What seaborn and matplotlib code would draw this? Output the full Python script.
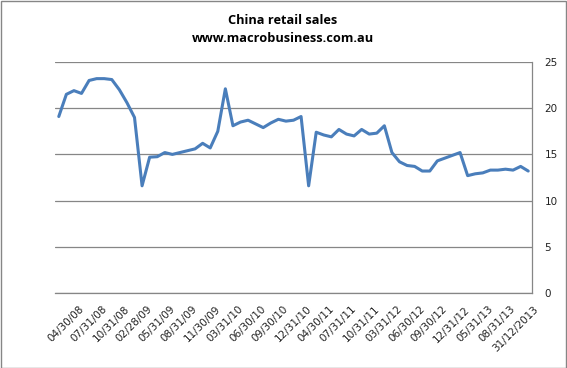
import numpy as np
import pandas as pd
import matplotlib
matplotlib.use("Agg")
import matplotlib.pyplot as plt
import matplotlib.transforms as mtransforms
from matplotlib.patches import Rectangle
import seaborn as sns

# retail sales growth, y/y %, one value per reported month
sales = [19.1, 21.5, 21.9, 21.6, 23.0, 23.2, 23.2, 23.1, 22.0, 20.6,
         19.0, 11.6, 14.7, 14.75, 15.2, 15.0, 15.2, 15.4, 15.6, 16.2,
         15.7, 17.5, 22.1, 18.1, 18.5, 18.7, 18.3, 17.9, 18.4, 18.8,
         18.6, 18.7, 19.1, 11.6, 17.4, 17.1, 16.9, 17.7, 17.2, 17.0,
         17.7, 17.2, 17.3, 18.1, 15.2, 14.2, 13.8, 13.7, 13.2, 13.2,
         14.3, 14.6, 14.9, 15.2, 12.7, 12.9, 13.0, 13.3, 13.3, 13.4,
         13.3, 13.7, 13.2]

# category labels shown on every third point
tick_labels = ['04/30/08', '07/31/08', '10/31/08', '02/28/09', '05/31/09',
               '08/31/09', '11/30/09', '03/31/10', '06/30/10', '09/30/10',
               '12/31/10', '04/30/11', '07/31/11', '10/31/11', '03/31/12',
               '06/30/12', '09/30/12', '12/31/12', '05/31/13', '08/31/13',
               '31/12/2013']
label_step = 3

y_ticks = [0, 5, 10, 15, 20, 25]

df = pd.DataFrame({'idx': np.arange(len(sales)), 'sales': sales})

sns.set_theme(style='white')
plt.rcParams['font.family'] = ['DejaVu Sans']

fig = plt.figure(figsize=(5.67, 3.68), dpi=100)
ax = fig.add_axes([55 / 567, 1 - 293 / 368, 477 / 567, 231 / 368])

sns.lineplot(data=df, x='idx', y='sales', ax=ax, color='#4A7EBB', linewidth=2.2)

grid_col = '#868686'
ax.set_xlim(-0.5, len(sales) - 0.5)
ax.set_ylim(0, 25)
ax.set_yticks(y_ticks)
ax.yaxis.tick_right()
ax.grid(axis='y', color=grid_col, linewidth=0.9)
ax.set_axisbelow(True)
for side in ['left', 'top']:
    ax.spines[side].set_visible(False)
for side in ['right', 'bottom']:
    ax.spines[side].set_color(grid_col)
    ax.spines[side].set_linewidth(0.9)
ax.tick_params(axis='y', length=0, pad=9, labelsize=7.5, labelcolor='#222222')
ax.tick_params(axis='x', length=0, pad=8, labelsize=7.5, labelcolor='#222222')
for lab in ax.get_yticklabels():
    lab.set_horizontalalignment('left')

ax.set_xticks(np.arange(0, len(tick_labels) * label_step, label_step))
ax.set_xticklabels(tick_labels, rotation=45, ha='right', va='top',
                   rotation_mode='anchor')
shift = mtransforms.ScaledTranslation(20 / 100, 0, fig.dpi_scale_trans)
for lab in ax.get_xticklabels():
    lab.set_transform(lab.get_transform() + shift)

ax.set_xlabel('')
ax.set_ylabel('')

fig.text(283 / 567, 1 - 20 / 368, 'China retail sales', ha='center', va='center',
         fontsize=9.2, fontweight='bold', family='Open Sans', color='black')
fig.text(283 / 567, 1 - 38 / 368, 'www.macrobusiness.com.au', ha='center', va='center',
         fontsize=9.2, fontweight='bold', family='Open Sans', color='black')

fig.patches.append(Rectangle((0.5 / 567, 0.5 / 368), 1 - 1.5 / 567, 1 - 1.5 / 368,
                             transform=fig.transFigure, fill=False,
                             edgecolor=grid_col, linewidth=1))

fig.savefig('out.png', dpi=100)
